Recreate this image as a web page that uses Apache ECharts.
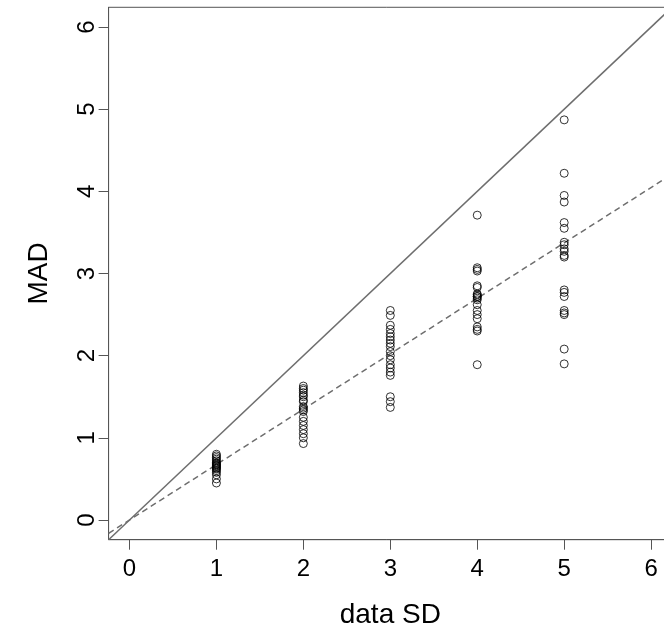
<!DOCTYPE html>
<html>
<head>
<meta charset="utf-8">
<script src="https://cdn.jsdelivr.net/npm/echarts@6/dist/echarts.min.js"></script>
<style>
html,body{margin:0;padding:0;background:#fff;}
#chart{width:664px;height:628px;}
</style>
</head>
<body>
<div id="chart"></div>
<script>
// ---- data ----
var sdLevels = [1, 2, 3, 4, 5];
var madAtSd1 = [0.80, 0.78, 0.76, 0.74, 0.72, 0.70, 0.69, 0.68, 0.67, 0.66, 0.65, 0.64, 0.63, 0.62, 0.60, 0.58, 0.55, 0.50, 0.45];
var madAtSd2 = [1.63, 1.60, 1.58, 1.55, 1.52, 1.50, 1.46, 1.44, 1.38, 1.36, 1.34, 1.32, 1.25, 1.20, 1.15, 1.10, 1.05, 1.00, 0.93];
var madAtSd3 = [2.55, 2.49, 2.37, 2.32, 2.27, 2.23, 2.19, 2.15, 2.11, 2.05, 2.00, 1.95, 1.89, 1.85, 1.80, 1.76, 1.50, 1.44, 1.37];
var madAtSd4 = [3.71, 3.07, 3.05, 3.03, 2.85, 2.83, 2.75, 2.74, 2.72, 2.72, 2.70, 2.68, 2.62, 2.55, 2.50, 2.45, 2.35, 2.32, 2.30, 1.89];
var madAtSd5 = [4.87, 4.22, 3.95, 3.87, 3.62, 3.55, 3.38, 3.35, 3.30, 3.27, 3.22, 3.20, 2.80, 2.77, 2.72, 2.55, 2.52, 2.50, 2.08, 1.90];
var xTicks = [0, 1, 2, 3, 4, 5, 6];
var yTicks = [0, 1, 2, 3, 4, 5, 6];
var identitySlope = 1;        // solid reference line y = x
var madNormalSlope = 0.6745;  // dashed line y = 0.6745 x
var axisMin = -0.24, axisMax = 6.24;

// ---- build ----
var groups = [madAtSd1, madAtSd2, madAtSd3, madAtSd4, madAtSd5];
var points = [];
groups.forEach(function (vals, i) {
  vals.forEach(function (v) { points.push([sdLevels[i], v]); });
});
function lineData(slope) {
  return [[axisMin, axisMin * slope], [axisMax, axisMax * slope]];
}

var font = 'Liberation Sans, Arial, Helvetica, sans-serif';
var chart = echarts.init(document.getElementById('chart'), null, {renderer: 'canvas'});
chart.setOption({
  animation: false,
  backgroundColor: '#fff',
  grid: {
    left: 108.6, top: 7.3, width: 563.4, height: 532.4,
    containLabel: false, outerBoundsMode: 'none',
    show: true, borderColor: '#555', borderWidth: 1, backgroundColor: 'transparent'
  },
  xAxis: {
    type: 'value', min: axisMin, max: axisMax,
    name: 'data SD', nameLocation: 'middle', nameGap: 62,
    nameTextStyle: {fontFamily: font, fontSize: 28, color: '#000'},
    axisLine: {show: true, onZero: false, lineStyle: {color: '#555', width: 1}},
    splitLine: {show: false},
    axisTick: {show: true, inside: false, length: 10, customValues: xTicks, lineStyle: {color: '#555', width: 1}},
    axisLabel: {customValues: xTicks, margin: 18, fontFamily: font, fontSize: 24, color: '#000'}
  },
  yAxis: {
    type: 'value', min: axisMin, max: axisMax,
    name: 'MAD', nameLocation: 'middle', nameGap: 55,
    nameTextStyle: {fontFamily: font, fontSize: 28, color: '#000'},
    axisLine: {show: true, onZero: false, lineStyle: {color: '#555', width: 1}},
    splitLine: {show: false},
    axisTick: {show: true, inside: false, length: 10, customValues: yTicks, lineStyle: {color: '#555', width: 1}},
    axisLabel: {customValues: yTicks, rotate: 90, margin: 9, fontFamily: font, fontSize: 24, color: '#000'}
  },
  series: [
    {
      type: 'line', data: lineData(identitySlope), showSymbol: false, symbol: 'none',
      lineStyle: {color: '#6e6e6e', width: 1.5, type: 'solid'}, silent: true, z: 1
    },
    {
      type: 'line', data: lineData(madNormalSlope), showSymbol: false, symbol: 'none',
      lineStyle: {color: '#6e6e6e', width: 1.5, type: [6, 4]}, silent: true, z: 1
    },
    {
      type: 'scatter', data: points, symbol: 'circle', symbolSize: 8,
      itemStyle: {color: 'rgba(0,0,0,0)', borderColor: '#000', borderWidth: 1}, z: 2
    }
  ]
});
</script>
</body>
</html>
